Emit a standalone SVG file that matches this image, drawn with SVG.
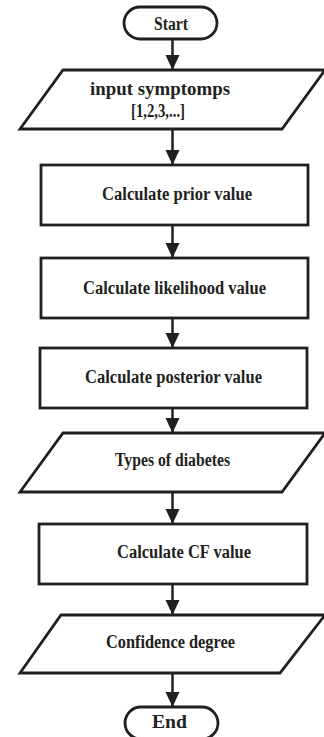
<svg xmlns="http://www.w3.org/2000/svg" width="324" height="737" viewBox="0 0 324 737">
<defs>
<style>
.shape{fill:#fff;stroke:#231f20;stroke-width:2.8;stroke-linejoin:miter}
.conn{fill:none;stroke:#231f20;stroke-width:2.5}
.lbl{font-family:"Liberation Serif","DejaVu Serif","Times New Roman",serif;font-weight:bold;font-size:18px;fill:#231f20;text-anchor:middle}
</style>
<marker id="ah" markerUnits="userSpaceOnUse" markerWidth="15" markerHeight="15" refX="15" refY="7" orient="auto">
<path d="M0,0 L15,7 L0,14 z" fill="#231f20"/>
</marker>
</defs>
<rect width="324" height="737" fill="#fff"/>
<g id="connectors">
<line class="conn" x1="172.5" y1="39" x2="172.5" y2="70" marker-end="url(#ah)"/>
<line class="conn" x1="172.5" y1="129" x2="172.5" y2="165" marker-end="url(#ah)"/>
<line class="conn" x1="172.5" y1="225" x2="172.5" y2="258" marker-end="url(#ah)"/>
<line class="conn" x1="172.5" y1="318" x2="172.5" y2="348" marker-end="url(#ah)"/>
<line class="conn" x1="172.5" y1="408" x2="172.5" y2="433" marker-end="url(#ah)"/>
<line class="conn" x1="172.5" y1="492" x2="172.5" y2="524" marker-end="url(#ah)"/>
<line class="conn" x1="172.5" y1="584" x2="172.5" y2="615" marker-end="url(#ah)"/>
<line class="conn" x1="172.5" y1="673" x2="172.5" y2="707" marker-end="url(#ah)"/>
</g>
<g id="start">
<rect class="shape" x="124" y="7" width="93" height="32" rx="16" ry="16"/>
<text class="lbl" x="171" y="30" textLength="34" lengthAdjust="spacingAndGlyphs">Start</text>
</g>
<g id="input">
<polygon class="shape" points="63,70 325,70 282,129 20,129"/>
<text class="lbl" x="160" y="95" textLength="140" lengthAdjust="spacingAndGlyphs">input symptomps</text>
<text class="lbl" x="158" y="117" textLength="54" lengthAdjust="spacingAndGlyphs">[1,2,3,...]</text>
</g>
<g id="prior">
<rect class="shape" x="41" y="165" width="267" height="60"/>
<text class="lbl" x="177" y="200" textLength="150" lengthAdjust="spacingAndGlyphs">Calculate prior value</text>
</g>
<g id="likelihood">
<rect class="shape" x="41" y="258" width="267" height="60"/>
<text class="lbl" x="174.5" y="294" textLength="183" lengthAdjust="spacingAndGlyphs">Calculate likelihood value</text>
</g>
<g id="posterior">
<rect class="shape" x="40" y="348" width="267" height="60"/>
<text class="lbl" x="173.5" y="383" textLength="177" lengthAdjust="spacingAndGlyphs">Calculate posterior value</text>
</g>
<g id="types">
<polygon class="shape" points="63,433 325,433 282,492 20,492"/>
<text class="lbl" x="172.5" y="466" textLength="115" lengthAdjust="spacingAndGlyphs">Types of diabetes</text>
</g>
<g id="cf">
<rect class="shape" x="39" y="524" width="268" height="60"/>
<text class="lbl" x="184" y="558" textLength="134" lengthAdjust="spacingAndGlyphs">Calculate CF value</text>
</g>
<g id="confidence">
<polygon class="shape" points="61,615 325,615 280,673 20,673"/>
<text class="lbl" x="170.5" y="648" textLength="129" lengthAdjust="spacingAndGlyphs">Confidence degree</text>
</g>
<g id="end">
<rect class="shape" x="125" y="707" width="93" height="32" rx="16" ry="16"/>
<text class="lbl" x="169.5" y="728" textLength="35" lengthAdjust="spacingAndGlyphs">End</text>
</g>
</svg>
